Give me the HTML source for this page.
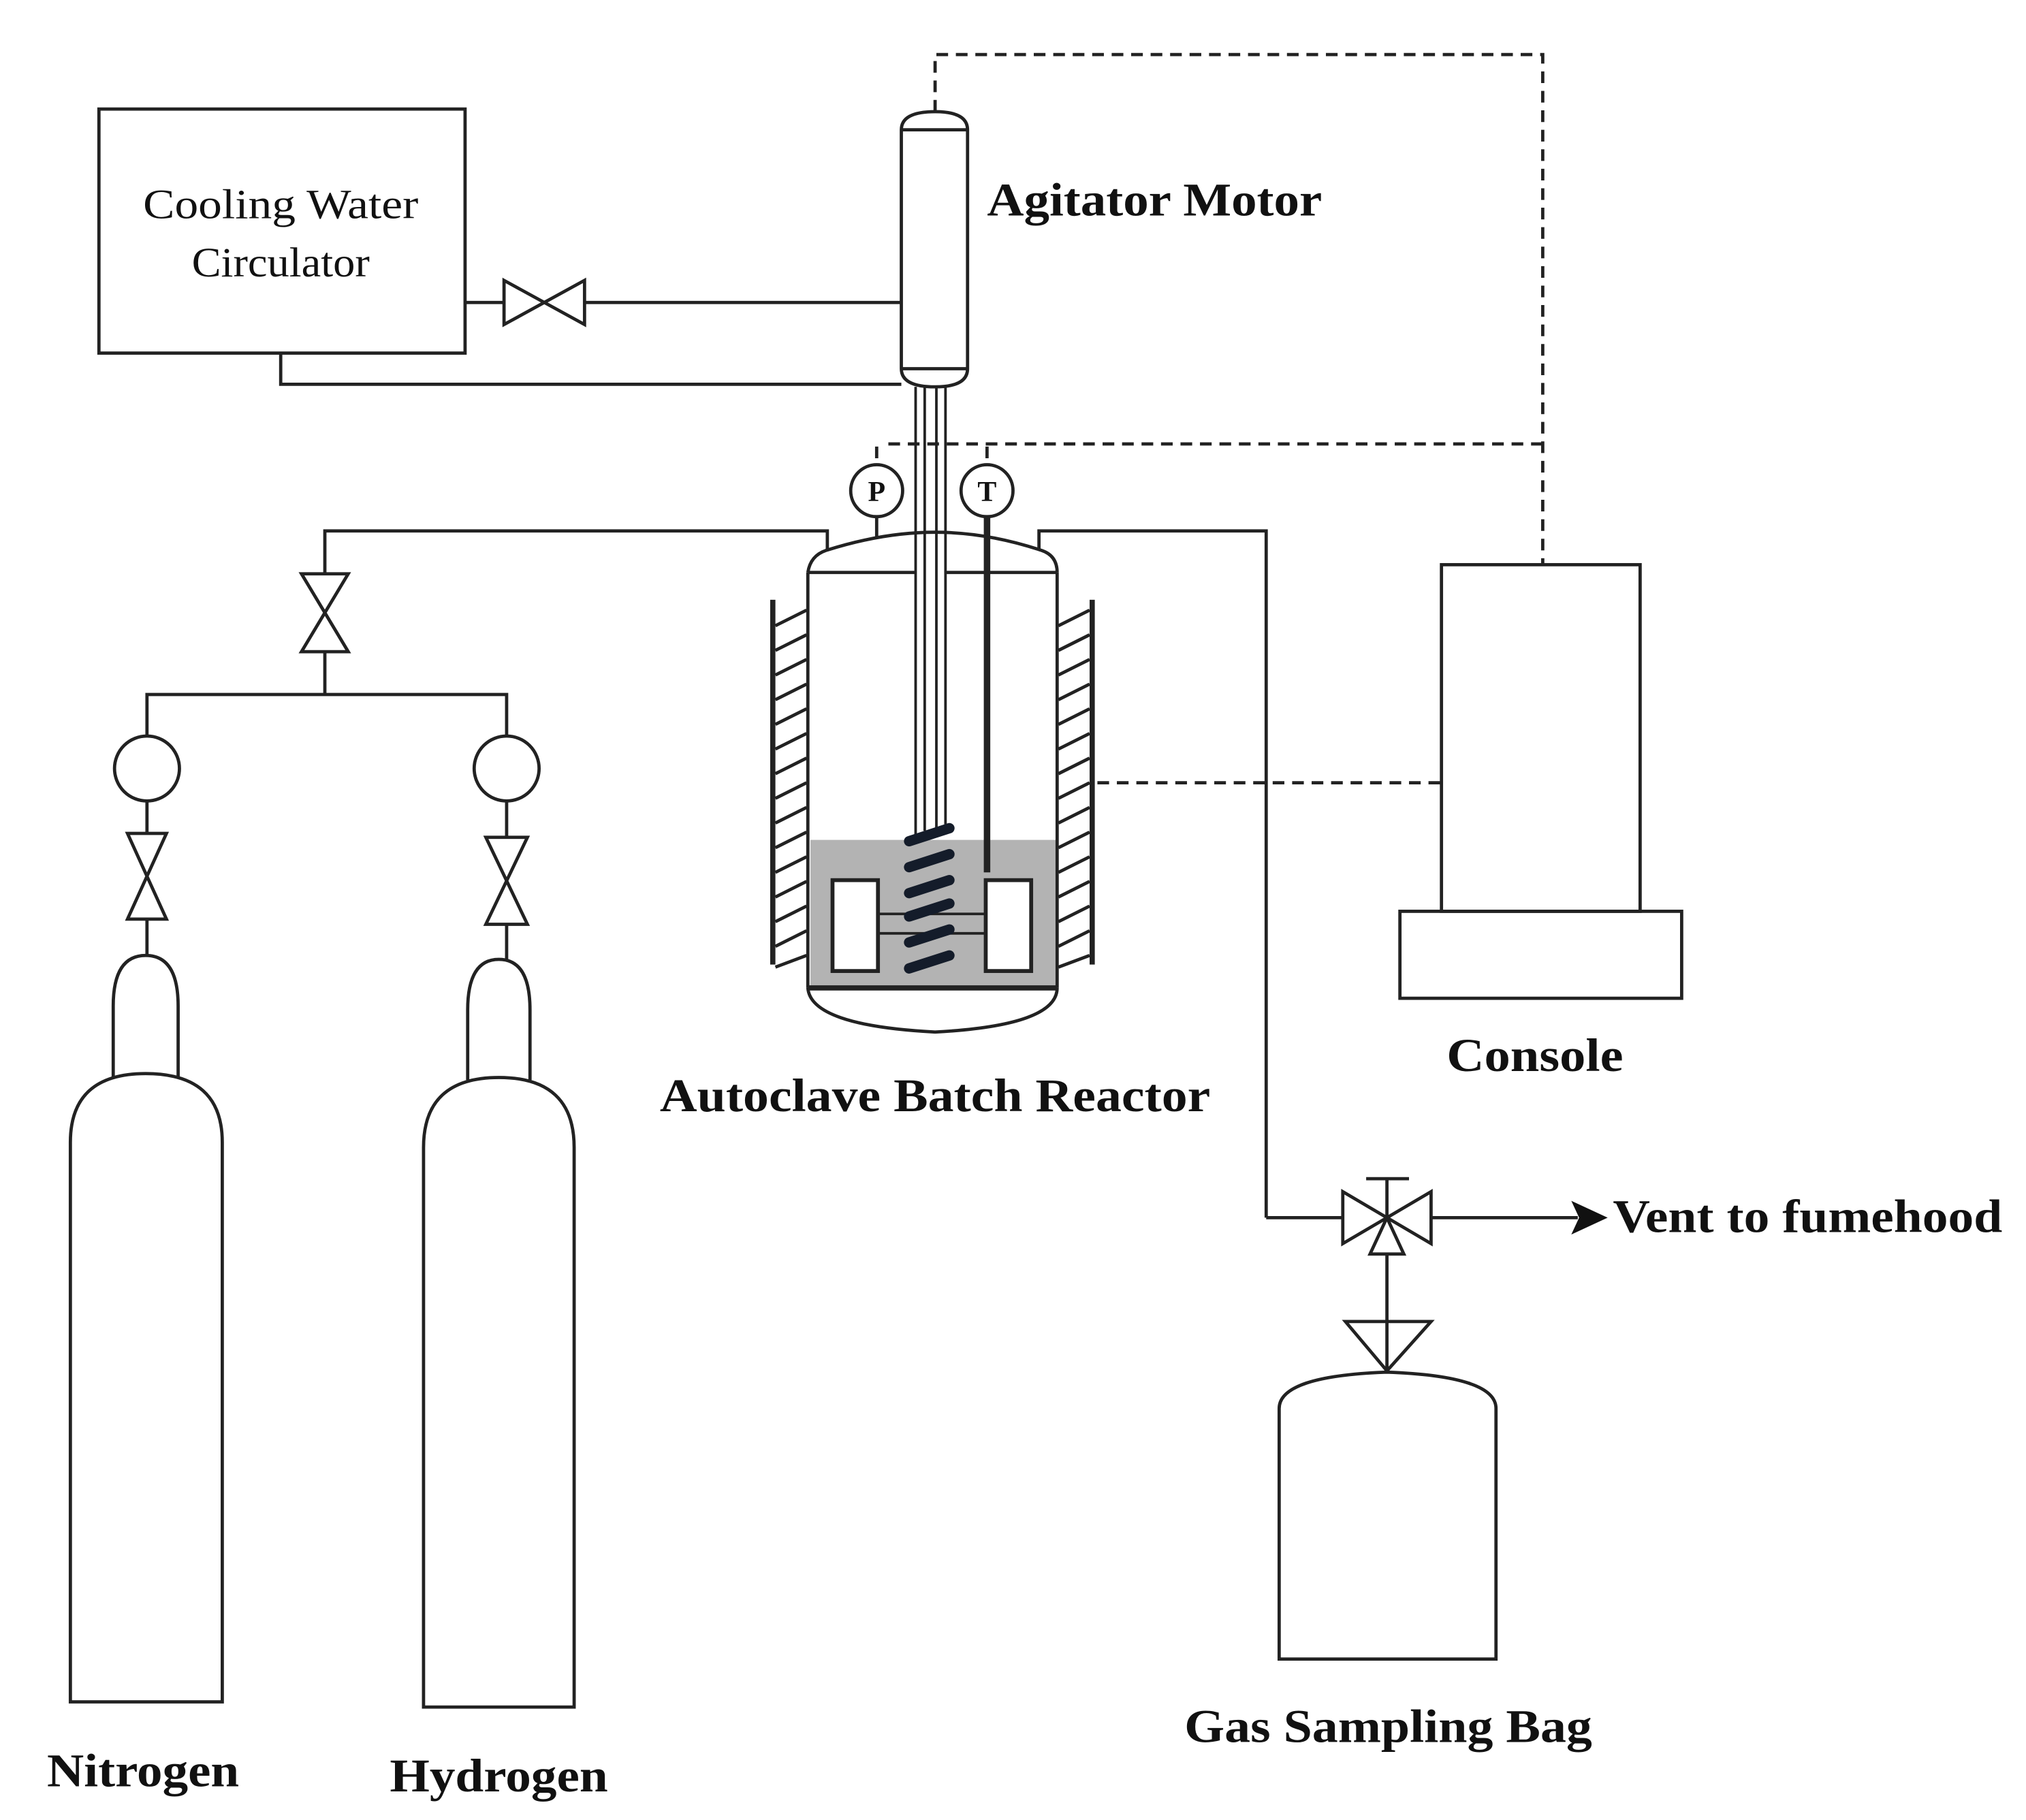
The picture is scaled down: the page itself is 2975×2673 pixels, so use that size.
<!DOCTYPE html>
<html><head><meta charset="utf-8"><style>
html,body{margin:0;padding:0;background:#fff;}
svg{display:block;}
text{font-family:"Liberation Serif",serif;fill:#111;}
</style></head><body>
<svg width="2975" height="2673" viewBox="0 0 1560 1402" xmlns="http://www.w3.org/2000/svg">
<g fill="none" stroke="#222" stroke-width="2.5">
<!-- Cooling box -->
<rect x="76" y="84" width="282" height="188"/>
<line x1="358" y1="233" x2="388" y2="233"/>
<path d="M388 216 L450 250 L450 216 L388 250 Z"/>
<line x1="450" y1="233" x2="694" y2="233"/>
<polyline points="216,272 216,296 694,296"/>
<!-- Motor -->
<path d="M694 100 Q694 86 720 86 Q745 86 745 100 L745 284 Q745 298 720 298 Q694 298 694 284 Z" fill="#fff"/>
<line x1="694" y1="100" x2="745" y2="100"/>
<line x1="694" y1="284" x2="745" y2="284"/>
<!-- shafts -->
<line x1="705" y1="298" x2="705" y2="745" stroke-width="2"/>
<line x1="712" y1="298" x2="712" y2="640" stroke-width="2"/>
<line x1="721" y1="298" x2="721" y2="640" stroke-width="2"/>
<line x1="728" y1="298" x2="728" y2="635" stroke-width="2"/>
</g>
<!-- dashed -->
<g fill="none" stroke="#222" stroke-width="2.5" stroke-dasharray="9,6">
<polyline points="720,86 720,42 1188,42 1188,435"/>
<polyline points="1188,342 680,342"/>
<line x1="675" y1="344" x2="675" y2="358"/>
<line x1="760" y1="344" x2="760" y2="358"/>
<line x1="845" y1="603" x2="1110" y2="603"/>
</g>
<!-- reactor -->
<rect x="624" y="647" width="190" height="114" fill="#b3b3b3"/>
<g fill="none" stroke="#222" stroke-width="2.5">
<path d="M622 441 Q624 428 636 424 Q680 410 720 410 Q760 410 802 424 Q814 428 814 441"/>
<line x1="622" y1="441" x2="705" y2="441"/>
<line x1="728" y1="441" x2="814" y2="441"/>
<line x1="622" y1="441" x2="622" y2="761"/>
<line x1="814" y1="441" x2="814" y2="761"/>
<line x1="622" y1="761" x2="814" y2="761" stroke-width="4"/>
<path d="M622 761 Q624 790 720 795 Q814 790 814 761"/>
<rect x="641" y="678" width="35" height="70" fill="#fff" stroke-width="3"/>
<rect x="759" y="678" width="35" height="70" fill="#fff" stroke-width="3"/>
<line x1="676" y1="704" x2="759" y2="704" stroke-width="2"/>
<line x1="676" y1="719" x2="759" y2="719" stroke-width="2"/>
<!-- jackets -->
<line x1="595" y1="462" x2="595" y2="743" stroke-width="4"/>
<line x1="841" y1="462" x2="841" y2="743" stroke-width="4"/>
<!-- P, T -->
<circle cx="675" cy="378" r="20" fill="#fff"/>
<circle cx="760" cy="378" r="20" fill="#fff"/>
<line x1="675" y1="398" x2="675" y2="414"/>
<line x1="760" y1="398" x2="760" y2="672" stroke-width="5"/>
<!-- feed lines -->
<polyline points="250,442 250,409 637,409 637,423"/>
<polyline points="975,938 975,409 800,409 800,423"/>
<path d="M232 442 L268 442 L232 502 L268 502 Z"/>
<polyline points="250,502 250,535"/>
<polyline points="113,567 113,535 390,535 390,567"/>
<ellipse cx="113" cy="592" rx="25" ry="25"/>
<ellipse cx="390" cy="592" rx="25" ry="25"/>
<line x1="113" y1="617" x2="113" y2="642"/>
<line x1="390" y1="617" x2="390" y2="645"/>
<path d="M98 642 L128 642 L98 708 L128 708 Z"/>
<path d="M374 645 L406 645 L374 712 L406 712 Z"/>
<line x1="113" y1="708" x2="113" y2="736"/>
<line x1="390" y1="712" x2="390" y2="739"/>
<!-- cylinders -->
<path d="M87 830 L87 775 Q87 736 112 736 Q137 736 137 775 L137 830"/>
<path d="M54 1311 L54 880 Q54 827 112 827 Q171 827 171 880 L171 1311 Z"/>
<path d="M360 832 L360 778 Q360 739 384 739 Q408 739 408 778 L408 832"/>
<path d="M326 1315 L326 884 Q326 830 384 830 Q442 830 442 884 L442 1315 Z"/>
<!-- console -->
<rect x="1110" y="435" width="153" height="267"/>
<rect x="1078" y="702" width="217" height="67"/>
<!-- three-way valve -->
<line x1="975" y1="938" x2="1034" y2="938"/>
<path d="M1034 918 L1034 958 L1102 918 L1102 958 Z"/>
<path d="M1068 938 L1055 966 L1081 966 Z"/>
<line x1="1068" y1="938" x2="1068" y2="908"/>
<line x1="1052" y1="908" x2="1085" y2="908"/>
<line x1="1102" y1="938" x2="1215" y2="938"/>
<line x1="1068" y1="966" x2="1068" y2="1056"/>
<path d="M1036 1018 L1102 1018 L1068 1056 Z"/>
<path d="M985 1278 L985 1085 Q985 1060 1068 1057 Q1152 1060 1152 1085 L1152 1278 Z"/>
</g>
<path d="M1210 925 L1238 938 L1210 951 L1216 938 Z" fill="#111"/>
<!-- hatches -->
<g stroke="#222" stroke-width="2.5">
<line x1="597" y1="482" x2="621" y2="470"/><line x1="597" y1="501" x2="621" y2="489"/>
<line x1="597" y1="520" x2="621" y2="508"/><line x1="597" y1="539" x2="621" y2="527"/>
<line x1="597" y1="558" x2="621" y2="546"/><line x1="597" y1="577" x2="621" y2="565"/>
<line x1="597" y1="596" x2="621" y2="584"/><line x1="597" y1="615" x2="621" y2="603"/>
<line x1="597" y1="634" x2="621" y2="622"/><line x1="597" y1="653" x2="621" y2="641"/>
<line x1="597" y1="672" x2="621" y2="660"/><line x1="597" y1="691" x2="621" y2="679"/>
<line x1="597" y1="710" x2="621" y2="698"/><line x1="597" y1="729" x2="621" y2="717"/>
<line x1="597" y1="745" x2="621" y2="736"/>
<line x1="815" y1="482" x2="839" y2="470"/><line x1="815" y1="501" x2="839" y2="489"/>
<line x1="815" y1="520" x2="839" y2="508"/><line x1="815" y1="539" x2="839" y2="527"/>
<line x1="815" y1="558" x2="839" y2="546"/><line x1="815" y1="577" x2="839" y2="565"/>
<line x1="815" y1="596" x2="839" y2="584"/><line x1="815" y1="615" x2="839" y2="603"/>
<line x1="815" y1="634" x2="839" y2="622"/><line x1="815" y1="653" x2="839" y2="641"/>
<line x1="815" y1="672" x2="839" y2="660"/><line x1="815" y1="691" x2="839" y2="679"/>
<line x1="815" y1="710" x2="839" y2="698"/><line x1="815" y1="729" x2="839" y2="717"/>
<line x1="815" y1="745" x2="839" y2="736"/>
</g>
<!-- coil -->
<g stroke="#141c2a" stroke-width="8" stroke-linecap="round">
<line x1="700" y1="648" x2="731" y2="638"/>
<line x1="700" y1="668" x2="731" y2="658"/>
<line x1="700" y1="688" x2="731" y2="678"/>
<line x1="700" y1="706" x2="731" y2="696"/>
<line x1="700" y1="726" x2="731" y2="716"/>
<line x1="700" y1="746" x2="731" y2="736"/>
</g>
<!-- texts -->
<text x="216" y="168" font-size="32" text-anchor="middle" textLength="212" lengthAdjust="spacingAndGlyphs">Cooling  Water</text>
<text x="216" y="213" font-size="32" text-anchor="middle" textLength="137" lengthAdjust="spacingAndGlyphs">Circulator</text>
<text x="675" y="386" font-size="22" font-weight="bold" text-anchor="middle">P</text>
<text x="760" y="386" font-size="22" font-weight="bold" text-anchor="middle">T</text>
<g font-weight="bold" font-size="36">
<text x="760" y="166" textLength="258" lengthAdjust="spacingAndGlyphs">Agitator Motor</text>
<text x="508" y="856" textLength="424" lengthAdjust="spacingAndGlyphs">Autoclave Batch Reactor</text>
<text x="1114" y="825" textLength="136" lengthAdjust="spacingAndGlyphs">Console</text>
<text x="1242" y="949" textLength="300" lengthAdjust="spacingAndGlyphs">Vent to fumehood</text>
<text x="912" y="1342" textLength="314" lengthAdjust="spacingAndGlyphs">Gas Sampling Bag</text>
<text x="36" y="1376" textLength="148" lengthAdjust="spacingAndGlyphs">Nitrogen</text>
<text x="300" y="1380" textLength="168" lengthAdjust="spacingAndGlyphs">Hydrogen</text>
</g>
</svg>
</body></html>
